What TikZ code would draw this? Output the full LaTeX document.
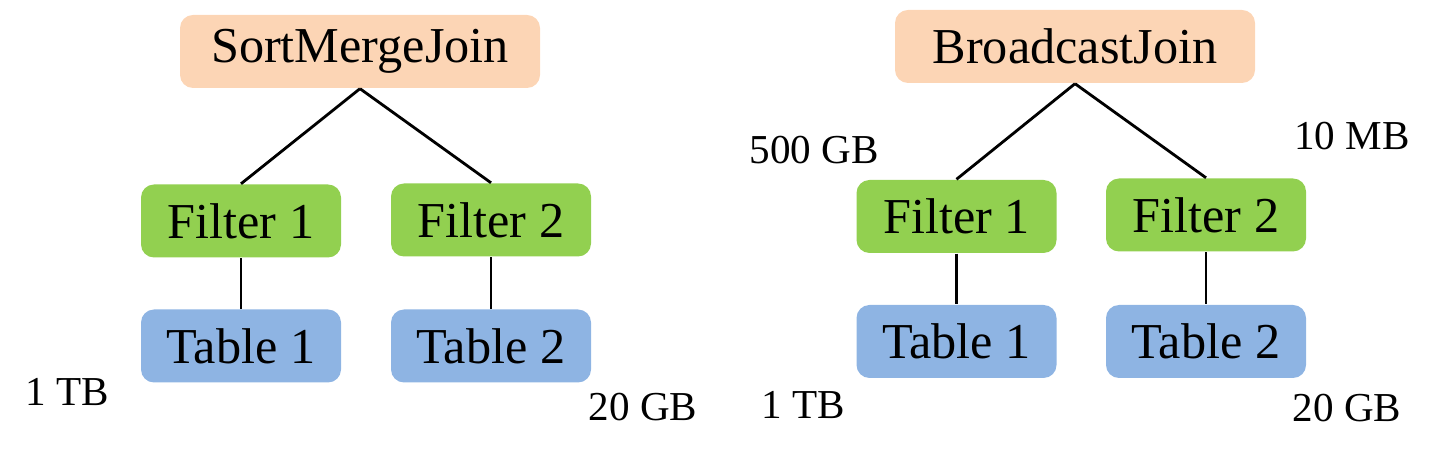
\documentclass[tikz,border=0pt]{standalone}
\usepackage{fontspec}
\setmainfont{Liberation Serif}
\usetikzlibrary{positioning}
\definecolor{joinpeach}{HTML}{FCD5B5}
\definecolor{filtergreen}{HTML}{92D050}
\definecolor{tableblue}{HTML}{8EB4E3}
\tikzset{
	box/.style={rounded corners=0.13cm, inner sep=0pt, font=\fontsize{14.3}{17}\selectfont},
	joinbox/.style={box, fill=joinpeach, minimum width=3.6cm, minimum height=0.73cm},
	filterbox/.style={box, fill=filtergreen, minimum width=2.0cm, minimum height=0.73cm},
	tablebox/.style={box, fill=tableblue, minimum width=2.0cm, minimum height=0.73cm},
	sizelabel/.style={font=\fontsize{11.7}{14}\selectfont},
	edge/.style={line width=0.8pt}
}
\begin{document}
\begin{tikzpicture}
			%%%%% START %%%%%
			\useasboundingbox (0, 0) rectangle (14.35, -4.54);
			
			% sort merge join
			\node[joinbox] (smj) at (3.60, -0.515) {SortMergeJoin};
			\node[filterbox] (smjf1) at (2.41, -2.21) {Filter 1};
			\node[filterbox] (smjf2) at (4.91, -2.20) {Filter 2};
			\node[tablebox] (smjt1) at (2.41, -3.46) {Table 1};
			\node[tablebox] (smjt2) at (4.91, -3.46) {Table 2};
			
			\draw[edge] (smj.south) -- (smjf1.north);
			\draw[edge] (smj.south) -- (smjf2.north);
			\draw[edge] (smjf1.south) -- (smjt1.north);
			\draw[edge] (smjf2.south) -- (smjt2.north);
			
			\node[sizelabel] (smjs1) at (0.67, -3.92) {1 TB};
			\node[sizelabel] (smjs2) at (6.43, -4.07) {20 GB};
			
			% broadcast join
			\node[joinbox] (bcj) at (10.75, -0.465) {BroadcastJoin};
			\node[filterbox] (bcjf1) at (9.565, -2.165) {Filter 1};
			\node[filterbox] (bcjf2) at (12.06, -2.15) {Filter 2};
			\node[tablebox] (bcjt1) at (9.565, -3.415) {Table 1};
			\node[tablebox] (bcjt2) at (12.06, -3.415) {Table 2};
			
			\draw[edge] (bcj.south) -- (bcjf1.north);
			\draw[edge] (bcj.south) -- (bcjf2.north);
			\draw[edge] (bcjf1.south) -- (bcjt1.north);
			\draw[edge] (bcjf2.south) -- (bcjt2.north);
			
			\node[sizelabel] (bcjs1) at (8.14, -1.50) {500 GB};
			\node[sizelabel] (bcjs2) at (13.52, -1.36) {10 MB};
			\node[sizelabel] (bcjs3) at (8.03, -4.05) {1 TB};
			\node[sizelabel] (bcjs4) at (13.47, -4.08) {20 GB};
			
			%%%%% END %%%%%
\end{tikzpicture}
\end{document}
